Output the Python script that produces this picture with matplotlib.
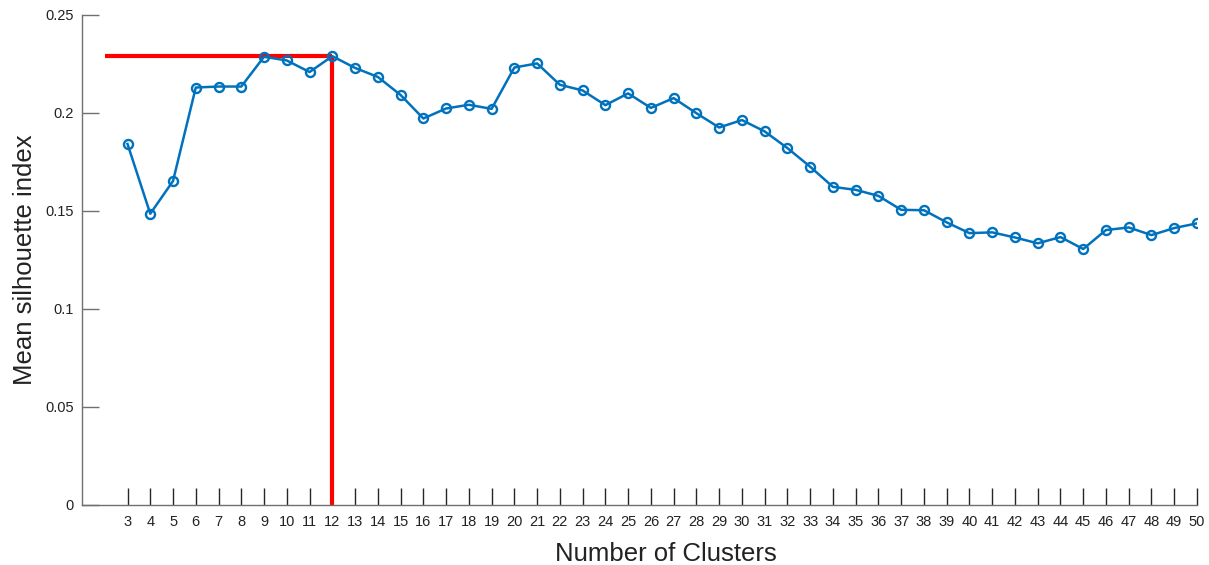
import numpy as np
import matplotlib
matplotlib.use('Agg')
import matplotlib.pyplot as plt

plt.rcParams['font.family'] = ['Liberation Sans', 'DejaVu Sans']

# Number of clusters and mean silhouette values
clusters = list(range(3, 51))
silhouette = [0.1842, 0.1486, 0.1653, 0.2130, 0.2135, 0.2135, 0.2287, 0.2268,
              0.2209, 0.2290, 0.2230, 0.2184, 0.2092, 0.1972, 0.2023, 0.2042,
              0.2021, 0.2232, 0.2253, 0.2144, 0.2115, 0.2040, 0.2100, 0.2026,
              0.2076, 0.1999, 0.1926, 0.1964, 0.1906, 0.1821, 0.1726, 0.1623,
              0.1608, 0.1577, 0.1506, 0.1504, 0.1442, 0.1387, 0.1391, 0.1365,
              0.1335, 0.1367, 0.1306, 0.1403, 0.1416, 0.1377, 0.1413, 0.1437]
y_ticks = [0, 0.05, 0.1, 0.15, 0.2, 0.25]
y_ticklabels = ['0', '0.05', '0.1', '0.15', '0.2', '0.25']

best_idx = int(np.argmax(silhouette))
best_k = clusters[best_idx]
best_val = silhouette[best_idx]

fig = plt.figure(figsize=(12.09, 5.65), dpi=100)
ax = fig.add_axes([82 / 1209, 60 / 565, (1197 - 82) / 1209, 490 / 565])

ax.plot(clusters, silhouette, color='#0072BD', linewidth=1.8,
        marker='o', markersize=6.5, markerfacecolor='none',
        markeredgewidth=1.7, zorder=3)

# optimum marker lines
ax.plot([2, best_k], [best_val, best_val], color='#FF0000', linewidth=3, zorder=2,
        solid_capstyle='butt')
ax.plot([best_k, best_k], [0, best_val], color='#FF0000', linewidth=3, zorder=2,
        solid_capstyle='butt')

ax.set_xlim(1, 50)
ax.set_ylim(0, 0.25)
ax.set_xticks(clusters)
ax.set_xticklabels([str(c) for c in clusters], fontsize=10.5, color='#222222')
ax.set_yticks(y_ticks)
ax.set_yticklabels(y_ticklabels, fontsize=10.5, color='#222222')

for side in ['top', 'right']:
    ax.spines[side].set_visible(False)
for side in ['left', 'bottom']:
    ax.spines[side].set_color('#707070')
    ax.spines[side].set_linewidth(1.0)

ax.tick_params(axis='x', direction='in', length=12, width=1.0, color='#262626', pad=7)
# y ticks drawn inward (to the right) like MATLAB
ax.tick_params(axis='y', direction='in', length=12, width=1.0, color='#707070', pad=6)

ax.set_xlabel('Number of Clusters', fontsize=18.5, color='#222222', labelpad=8)
ax.xaxis.set_label_coords(0.524, -0.075)
ax.set_ylabel('Mean silhouette index', fontsize=18.5, color='#222222', labelpad=6)

fig.savefig('out.png', dpi=100)
